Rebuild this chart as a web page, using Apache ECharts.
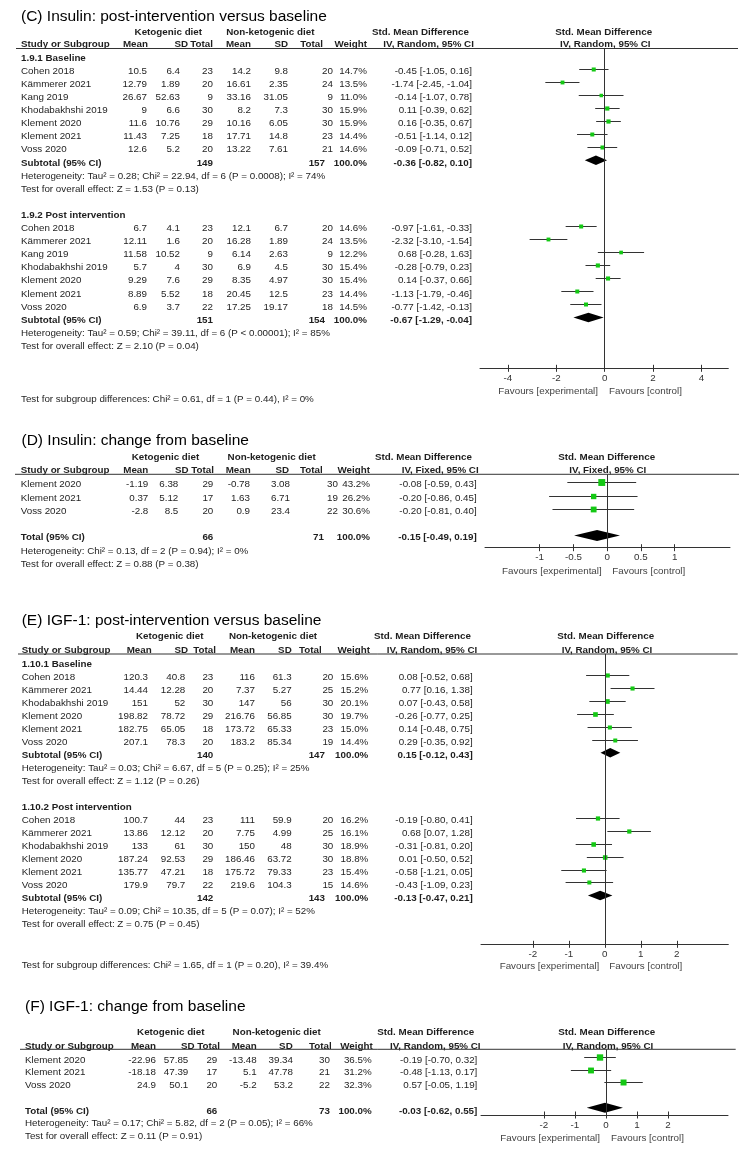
<!DOCTYPE html>
<html><head><meta charset="utf-8">
<script src="https://cdn.jsdelivr.net/npm/echarts@6/dist/echarts.min.js"></script>
<style>html,body{margin:0;padding:0;background:#fff}#c{width:752px;height:1159px}</style>
</head><body><div id="c"></div>
<script>
// ===== Panel C: Insulin post-intervention vs baseline =====
const C_studies = ["Cohen 2018","Kämmerer 2021","Kang 2019","Khodabakhshi 2019","Klement 2020","Klement 2021","Voss 2020"];
const C1_ketoMean = [10.5, 12.79, 26.67, 9, 11.6, 11.43, 12.6];
const C1_ketoSD   = [6.4, 1.89, 52.63, 6.6, 10.76, 7.25, 5.2];
const C1_ketoN    = [23, 20, 9, 30, 29, 18, 20];
const C1_nonMean  = [14.2, 16.61, 33.16, 8.2, 10.16, 17.71, 13.22];
const C1_nonSD    = [9.8, 2.35, 31.05, 7.3, 6.05, 14.8, 7.61];
const C1_nonN     = [20, 24, 9, 30, 30, 23, 21];
const C1_weight   = [14.7, 13.5, 11.0, 15.9, 15.9, 14.4, 14.6];
const C1_smd      = [-0.45, -1.74, -0.14, 0.11, 0.16, -0.51, -0.09];
const C1_lo       = [-1.05, -2.45, -1.07, -0.39, -0.35, -1.14, -0.71];
const C1_hi       = [0.16, -1.04, 0.78, 0.62, 0.67, 0.12, 0.52];
const C1_sub      = [149, 157, -0.36, -0.82, 0.10];
const C1_het = "Heterogeneity: Tau² = 0.28; Chi² = 22.94, df = 6 (P = 0.0008); I² = 74%";
const C1_test = "Test for overall effect: Z = 1.53 (P = 0.13)";

const C2_ketoMean = [6.7, 12.11, 11.58, 5.7, 9.29, 8.89, 6.9];
const C2_ketoSD   = [4.1, 1.6, 10.52, 4, 7.6, 5.52, 3.7];
const C2_ketoN    = [23, 20, 9, 30, 29, 18, 22];
const C2_nonMean  = [12.1, 16.28, 6.14, 6.9, 8.35, 20.45, 17.25];
const C2_nonSD    = [6.7, 1.89, 2.63, 4.5, 4.97, 12.5, 19.17];
const C2_nonN     = [20, 24, 9, 30, 30, 23, 18];
const C2_weight   = [14.6, 13.5, 12.2, 15.4, 15.4, 14.4, 14.5];
const C2_smd      = [-0.97, -2.32, 0.68, -0.28, 0.14, -1.13, -0.77];
const C2_lo       = [-1.61, -3.10, -0.28, -0.79, -0.37, -1.79, -1.42];
const C2_hi       = [-0.33, -1.54, 1.63, 0.23, 0.66, -0.46, -0.13];
const C2_sub      = [151, 154, -0.67, -1.29, -0.04];
const C2_het = "Heterogeneity: Tau² = 0.59; Chi² = 39.11, df = 6 (P < 0.00001); I² = 85%";
const C2_test = "Test for overall effect: Z = 2.10 (P = 0.04)";
const C_subgroup = "Test for subgroup differences: Chi² = 0.61, df = 1 (P = 0.44), I² = 0%";
const C_ticks = [-4, -2, 0, 2, 4];

// ===== Panel D: Insulin change from baseline =====
const D_studies  = ["Klement 2020","Klement 2021","Voss 2020"];
const D_ketoMean = [-1.19, 0.37, -2.8];
const D_ketoSD   = [6.38, 5.12, 8.5];
const D_ketoN    = [29, 17, 20];
const D_nonMean  = [-0.78, 1.63, 0.9];
const D_nonSD    = [3.08, 6.71, 23.4];
const D_nonN     = [30, 19, 22];
const D_weight   = [43.2, 26.2, 30.6];
const D_smd      = [-0.08, -0.20, -0.20];
const D_lo       = [-0.59, -0.86, -0.81];
const D_hi       = [0.43, 0.45, 0.40];
const D_total    = [66, 71, -0.15, -0.49, 0.19];
const D_het = "Heterogeneity: Chi² = 0.13, df = 2 (P = 0.94); I² = 0%";
const D_test = "Test for overall effect: Z = 0.88 (P = 0.38)";
const D_ticks = [-1, -0.5, 0, 0.5, 1];

// ===== Panel E: IGF-1 post-intervention vs baseline =====
const E_studies = ["Cohen 2018","Kämmerer 2021","Khodabakhshi 2019","Klement 2020","Klement 2021","Voss 2020"];
const E1_ketoMean = [120.3, 14.44, 151, 198.82, 182.75, 207.1];
const E1_ketoSD   = [40.8, 12.28, 52, 78.72, 65.05, 78.3];
const E1_ketoN    = [23, 20, 30, 29, 18, 20];
const E1_nonMean  = [116, 7.37, 147, 216.76, 173.72, 183.2];
const E1_nonSD    = [61.3, 5.27, 56, 56.85, 65.33, 85.34];
const E1_nonN     = [20, 25, 30, 30, 23, 19];
const E1_weight   = [15.6, 15.2, 20.1, 19.7, 15.0, 14.4];
const E1_smd      = [0.08, 0.77, 0.07, -0.26, 0.14, 0.29];
const E1_lo       = [-0.52, 0.16, -0.43, -0.77, -0.48, -0.35];
const E1_hi       = [0.68, 1.38, 0.58, 0.25, 0.75, 0.92];
const E1_sub      = [140, 147, 0.15, -0.12, 0.43];
const E1_het = "Heterogeneity: Tau² = 0.03; Chi² = 6.67, df = 5 (P = 0.25); I² = 25%";
const E1_test = "Test for overall effect: Z = 1.12 (P = 0.26)";

const E2_ketoMean = [100.7, 13.86, 133, 187.24, 135.77, 179.9];
const E2_ketoSD   = [44, 12.12, 61, 92.53, 47.21, 79.7];
const E2_ketoN    = [23, 20, 30, 29, 18, 22];
const E2_nonMean  = [111, 7.75, 150, 186.46, 175.72, 219.6];
const E2_nonSD    = [59.9, 4.99, 48, 63.72, 79.33, 104.3];
const E2_nonN     = [20, 25, 30, 30, 23, 15];
const E2_weight   = [16.2, 16.1, 18.9, 18.8, 15.4, 14.6];
const E2_smd      = [-0.19, 0.68, -0.31, 0.01, -0.58, -0.43];
const E2_lo       = [-0.80, 0.07, -0.81, -0.50, -1.21, -1.09];
const E2_hi       = [0.41, 1.28, 0.20, 0.52, 0.05, 0.23];
const E2_sub      = [142, 143, -0.13, -0.47, 0.21];
const E2_het = "Heterogeneity: Tau² = 0.09; Chi² = 10.35, df = 5 (P = 0.07); I² = 52%";
const E2_test = "Test for overall effect: Z = 0.75 (P = 0.45)";
const E_subgroup = "Test for subgroup differences: Chi² = 1.65, df = 1 (P = 0.20), I² = 39.4%";
const E_ticks = [-2, -1, 0, 1, 2];

// ===== Panel F: IGF-1 change from baseline =====
const F_studies  = ["Klement 2020","Klement 2021","Voss 2020"];
const F_ketoMean = [-22.96, -18.18, 24.9];
const F_ketoSD   = [57.85, 47.39, 50.1];
const F_ketoN    = [29, 17, 20];
const F_nonMean  = [-13.48, 5.1, -5.2];
const F_nonSD    = [39.34, 47.78, 53.2];
const F_nonN     = [30, 21, 22];
const F_weight   = [36.5, 31.2, 32.3];
const F_smd      = [-0.19, -0.48, 0.57];
const F_lo       = [-0.70, -1.13, -0.05];
const F_hi       = [0.32, 0.17, 1.19];
const F_total    = [66, 73, -0.03, -0.62, 0.55];
const F_het = "Heterogeneity: Tau² = 0.17; Chi² = 5.82, df = 2 (P = 0.05); I² = 66%";
const F_test = "Test for overall effect: Z = 0.11 (P = 0.91)";
const F_ticks = [-2, -1, 0, 1, 2];

// ===== Styling / layout =====
const FAM = '"Liberation Sans", Arial, Helvetica, sans-serif';
const FS = 9.8;
const TXT = '#1e1e1e';
const LINE = '#333333';
const GREEN = '#14c814';
function font(size, bold){ return (bold ? 'bold ' : '') + size + 'px ' + FAM; }
function ci(s, l, h){ return s.toFixed(2) + ' [' + l.toFixed(2) + ', ' + h.toFixed(2) + ']'; }

function group(label, studies, km, ksd, kn, nm, nsd, nn, w, smd, lo, hi, sub, het, test, subLabel){
  return {label, studies, km, ksd, kn, nm, nsd, nn, w, smd, lo, hi, sub, het, test, subLabel};
}

const panels = [
  {
    L: {title:'(C) Insulin: post-intervention versus baseline', titleX:21, titleY:16.7,
        h1Y:32.3, h2Y:44.3, lineY:48.5, lineX0:16, lineX1:738,
        axisY:368.3, gridL:480, gridR:728.3, xmin:-5.15, xmax:5.11, ticks:C_ticks,
        y0:58, step:13.1, markDy:-2.5, dH:9.5, boxK:1.05,
        col:{study:21, m1:147, s1:180, n1:213, m2:251, s2:288, n2:333, n2sub:325, w:367, ci:472},
        hcol:{keto:168.3, non:270.3, m1:148, s1:188, n1:213, m2:251, s2:288, n2:323, w:367, smdL:372, ivL:383.3, smdR:555.3, ivR:560},
        method:'IV, Random, 95% CI', favY:391.7, favExpR:598, favCtlL:609,
        blankBeforeTotal:false, noteY:398.8},
    groups: [
      group('1.9.1 Baseline', C_studies, C1_ketoMean, C1_ketoSD, C1_ketoN, C1_nonMean, C1_nonSD, C1_nonN, C1_weight, C1_smd, C1_lo, C1_hi, C1_sub, C1_het, C1_test, 'Subtotal (95% CI)'),
      group('1.9.2 Post intervention', C_studies, C2_ketoMean, C2_ketoSD, C2_ketoN, C2_nonMean, C2_nonSD, C2_nonN, C2_weight, C2_smd, C2_lo, C2_hi, C2_sub, C2_het, C2_test, 'Subtotal (95% CI)')
    ],
    note: C_subgroup
  },
  {
    L: {title:'(D) Insulin: change from baseline', titleX:21.5, titleY:441,
        h1Y:457.7, h2Y:470.7, lineY:474.3, lineX0:15, lineX1:739,
        axisY:547.7, gridL:485, gridR:730, xmin:-1.81, xmax:1.82, ticks:D_ticks,
        y0:484.5, step:13.3, markDy:-2.2, dH:11, boxK:1.05,
        col:{study:20.7, m1:148.3, s1:178.3, n1:213.3, m2:250, s2:290, n2:338, n2sub:324, w:370, ci:476.7},
        hcol:{keto:165.5, non:271.7, m1:148.3, s1:188.5, n1:214, m2:250.7, s2:289, n2:322.7, w:370, smdL:375, ivL:401.7, smdR:558.3, ivR:569.3},
        method:'IV, Fixed, 95% CI', favY:571, favExpR:601.7, favCtlL:612.3,
        blankBeforeTotal:true, noteY:null},
    groups: [
      group(null, D_studies, D_ketoMean, D_ketoSD, D_ketoN, D_nonMean, D_nonSD, D_nonN, D_weight, D_smd, D_lo, D_hi, D_total, D_het, D_test, 'Total (95% CI)')
    ],
    note: null
  },
  {
    L: {title:'(E) IGF-1: post-intervention versus baseline', titleX:21.7, titleY:620.7,
        h1Y:636.5, h2Y:650.7, lineY:654, lineX0:18, lineX1:737.7,
        axisY:944.3, gridL:481, gridR:728.3, xmin:-3.44, xmax:3.43, ticks:E_ticks,
        y0:664.5, step:12.97, markDy:-2.5, dH:9.5, boxK:1.05,
        col:{study:21.7, m1:148, s1:185.3, n1:213.3, m2:255, s2:291.7, n2:333.3, n2sub:325, w:368.3, ci:472.7},
        hcol:{keto:169.7, non:273, m1:151.7, s1:188, n1:216, m2:255, s2:291.7, n2:321.7, w:370, smdL:374, ivL:386.7, smdR:557.3, ivR:561.7},
        method:'IV, Random, 95% CI', favY:966.7, favExpR:599.3, favCtlL:609.3,
        blankBeforeTotal:false, noteY:965.7},
    groups: [
      group('1.10.1 Baseline', E_studies, E1_ketoMean, E1_ketoSD, E1_ketoN, E1_nonMean, E1_nonSD, E1_nonN, E1_weight, E1_smd, E1_lo, E1_hi, E1_sub, E1_het, E1_test, 'Subtotal (95% CI)'),
      group('1.10.2 Post intervention', E_studies, E2_ketoMean, E2_ketoSD, E2_ketoN, E2_nonMean, E2_nonSD, E2_nonN, E2_weight, E2_smd, E2_lo, E2_hi, E2_sub, E2_het, E2_test, 'Subtotal (95% CI)')
    ],
    note: E_subgroup
  },
  {
    L: {title:'(F) IGF-1: change from baseline', titleX:25, titleY:1006.7,
        h1Y:1032.7, h2Y:1046, lineY:1049.3, lineX0:20, lineX1:735.7,
        axisY:1115, gridL:481, gridR:728, xmin:-4.03, xmax:3.94, ticks:F_ticks,
        y0:1060, step:12.7, markDy:-3, dH:10, boxK:1.05,
        col:{study:25, m1:156, s1:188.3, n1:217.3, m2:256.7, s2:293, n2:330, n2sub:330, w:371.7, ci:477.3},
        hcol:{keto:170.8, non:276.7, m1:156, s1:194.5, n1:220, m2:256.7, s2:292.7, n2:331.7, w:372.7, smdL:377.3, ivL:390, smdR:558.3, ivR:562.7},
        method:'IV, Random, 95% CI', favY:1138, favExpR:600, favCtlL:611,
        blankBeforeTotal:true, noteY:null},
    groups: [
      group(null, F_studies, F_ketoMean, F_ketoSD, F_ketoN, F_nonMean, F_nonSD, F_nonN, F_weight, F_smd, F_lo, F_hi, F_total, F_het, F_test, 'Total (95% CI)')
    ],
    note: null
  }
];

// Build row descriptors (y = px offset below the header rule)
panels.forEach(P => {
  const L = P.L; const rows = []; let k = 0;
  const yAt = kk => L.y0 + kk * L.step - L.lineY;
  P.groups.forEach(g => {
    if (g.label) { rows.push({kind:'label', text:g.label, y:yAt(k)}); k++; }
    g.studies.forEach((s, i) => {
      rows.push({kind:'study', name:s, km:g.km[i], ksd:g.ksd[i], kn:g.kn[i], nm:g.nm[i], nsd:g.nsd[i], nn:g.nn[i],
                 w:g.w[i], smd:g.smd[i], lo:g.lo[i], hi:g.hi[i], y:yAt(k)}); k++;
    });
    if (L.blankBeforeTotal) k++;
    rows.push({kind:'sub', label:g.subLabel, kn:g.sub[0], nn:g.sub[1], smd:g.sub[2], lo:g.sub[3], hi:g.sub[4], y:yAt(k)}); k++;
    rows.push({kind:'note', text:g.het, y:yAt(k)}); k++;
    rows.push({kind:'note', text:g.test, y:yAt(k)}); k++;
    k++;
  });
  if (P.note) rows.push({kind:'note', text:P.note, y:L.noteY - L.lineY});
  P.rows = rows;
});

function makeRender(P){
  const L = P.L;
  return function(params, api){
    const r = P.rows[params.dataIndex];
    const yc = api.coord([0, r.y])[1];
    const ch = [];
    const txt = (t, x, align, bold) => ch.push({type:'text', style:{text:String(t), x:x, y:yc, align:align, verticalAlign:'middle', font:font(FS, bold), fill:TXT}});
    if (r.kind === 'label') txt(r.text, L.col.study, 'left', true);
    else if (r.kind === 'note') txt(r.text, L.col.study, 'left', false);
    else if (r.kind === 'study') {
      txt(r.name, L.col.study, 'left');
      txt(r.km, L.col.m1, 'right'); txt(r.ksd, L.col.s1, 'right'); txt(r.kn, L.col.n1, 'right');
      txt(r.nm, L.col.m2, 'right'); txt(r.nsd, L.col.s2, 'right'); txt(r.nn, L.col.n2, 'right');
      txt(r.w.toFixed(1) + '%', L.col.w, 'right');
      txt(ci(r.smd, r.lo, r.hi), L.col.ci, 'right');
      const my = r.y + L.markDy;
      const a = api.coord([r.lo, my]), b = api.coord([r.hi, my]), m = api.coord([r.smd, my]);
      const yy = Math.round(a[1]) + 0.5;
      ch.push({type:'line', shape:{x1:a[0], y1:yy, x2:b[0], y2:yy}, style:{stroke:LINE, lineWidth:1}});
      const s = Math.sqrt(r.w) * L.boxK;
      ch.push({type:'rect', shape:{x:m[0] - s/2, y:yy - s/2, width:s, height:s}, style:{fill:GREEN}});
    } else if (r.kind === 'sub') {
      txt(r.label, L.col.study, 'left', true);
      txt(r.kn, L.col.n1, 'right', true);
      txt(r.nn, L.col.n2sub, 'right', true);
      txt('100.0%', L.col.w, 'right', true);
      txt(ci(r.smd, r.lo, r.hi), L.col.ci, 'right', true);
      const my = r.y + L.markDy;
      const p1 = api.coord([r.lo, my]), p2 = api.coord([r.smd, my - L.dH/2]),
            p3 = api.coord([r.hi, my]), p4 = api.coord([r.smd, my + L.dH/2]);
      ch.push({type:'polygon', shape:{points:[p1, p2, p3, p4]}, style:{fill:'#000'}});
    }
    return {type:'group', children:ch};
  };
}

const grids = [], xAxes = [], yAxes = [], series = [], graphics = [];
panels.forEach((P, i) => {
  const L = P.L;
  grids.push({left:L.gridL, width:L.gridR - L.gridL, top:L.lineY, height:L.axisY - L.lineY, containLabel:false});
  xAxes.push({type:'value', gridIndex:i, min:L.xmin, max:L.xmax, position:'bottom',
    splitLine:{show:false},
    axisLine:{show:true, onZero:false, lineStyle:{color:LINE, width:1}},
    axisTick:{show:true, customValues:L.ticks, length:3.5, lineStyle:{color:LINE}},
    axisLabel:{show:true, customValues:L.ticks, margin:5, color:'#333', fontSize:FS, fontFamily:FAM}});
  yAxes.push({type:'value', gridIndex:i, min:0, max:L.axisY - L.lineY, inverse:true, show:false});
  series.push({type:'custom', xAxisIndex:i, yAxisIndex:i, clip:false, silent:true,
    renderItem:makeRender(P), encode:{x:0, y:1},
    data:P.rows.map(r => [r.smd != null ? r.smd : 0, r.y]),
    markLine:{silent:true, symbol:['none','none'], label:{show:false}, animation:false,
      lineStyle:{color:LINE, width:1, type:'solid'}, data:[{xAxis:0}]}});

  const T = (text, x, y, align, f, fill) => graphics.push({type:'text', x:x, y:y, silent:true,
    style:{text:text, align:align, verticalAlign:'middle', font:f, fill:fill || TXT}});
  T(L.title, L.titleX, L.titleY, 'left', font(15.5, false), '#000');
  const H = L.hcol;
  T('Ketogenic diet', H.keto, L.h1Y, 'center', font(FS, true));
  T('Non-ketogenic diet', H.non, L.h1Y, 'center', font(FS, true));
  T('Std. Mean Difference', H.smdL, L.h1Y, 'left', font(FS, true));
  T('Std. Mean Difference', H.smdR, L.h1Y, 'left', font(FS, true));
  T('Study or Subgroup', L.col.study, L.h2Y, 'left', font(FS, true));
  T('Mean', H.m1, L.h2Y, 'right', font(FS, true));
  T('SD', H.s1, L.h2Y, 'right', font(FS, true));
  T('Total', H.n1, L.h2Y, 'right', font(FS, true));
  T('Mean', H.m2, L.h2Y, 'right', font(FS, true));
  T('SD', H.s2, L.h2Y, 'right', font(FS, true));
  T('Total', H.n2, L.h2Y, 'right', font(FS, true));
  T('Weight', H.w, L.h2Y, 'right', font(FS, true));
  T(L.method, H.ivL, L.h2Y, 'left', font(FS, true));
  T(L.method, H.ivR, L.h2Y, 'left', font(FS, true));
  T('Favours [experimental]', L.favExpR, L.favY, 'right', font(FS, false), '#444');
  T('Favours [control]', L.favCtlL, L.favY, 'left', font(FS, false), '#444');
  graphics.push({type:'line', silent:true, shape:{x1:L.lineX0, y1:L.lineY, x2:L.lineX1, y2:L.lineY},
    style:{stroke:LINE, lineWidth:1}});
});
// upward half of the crossing tick marks (a second, line-less axis per grid)
panels.forEach((P, i) => {
  const L = P.L;
  xAxes.push({type:'value', gridIndex:i, min:L.xmin, max:L.xmax, position:'bottom',
    splitLine:{show:false}, axisLine:{show:false, onZero:false},
    axisTick:{show:true, inside:true, customValues:L.ticks, length:3.5, lineStyle:{color:LINE}},
    axisLabel:{show:false}});
});

const chart = echarts.init(document.getElementById('c'), null, {renderer:'canvas'});
chart.setOption({
  backgroundColor:'#fff',
  animation:false,
  grid:grids, xAxis:xAxes, yAxis:yAxes, series:series,
  graphic:{elements:graphics}
});
</script></body></html>
